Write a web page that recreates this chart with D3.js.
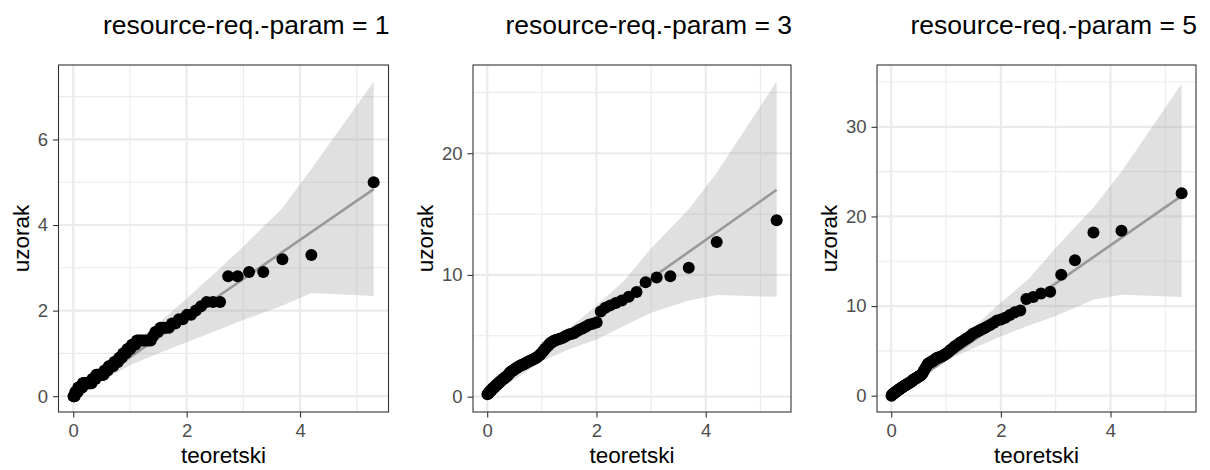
<!DOCTYPE html>
<html><head><meta charset="utf-8">
<script src="https://cdn.jsdelivr.net/npm/d3@7"></script>
<style>
body{margin:0;background:#fff;}
svg{display:block;font-family:"Liberation Sans",Arial,sans-serif;}
</style></head>
<body><svg id="chart" width="1210" height="470"></svg>
<script>
// ---- data ----
const titles = ["resource-req.-param = 1", "resource-req.-param = 3", "resource-req.-param = 5"];
const xTheo = [0.005,0.015,0.025,0.036,0.046,0.057,0.067,0.078,0.089,0.100,
0.111,0.122,0.134,0.145,0.157,0.168,0.180,0.192,0.205,0.217,
0.229,0.242,0.255,0.268,0.281,0.294,0.308,0.322,0.336,0.350,
0.364,0.378,0.393,0.408,0.423,0.439,0.454,0.470,0.486,0.503,
0.519,0.536,0.553,0.571,0.589,0.607,0.626,0.644,0.664,0.683,
0.703,0.724,0.744,0.766,0.788,0.810,0.832,0.856,0.880,0.904,
0.929,0.955,0.981,1.008,1.036,1.064,1.094,1.124,1.155,1.187,
1.221,1.255,1.291,1.328,1.367,1.407,1.448,1.492,1.537,1.585,
1.635,1.687,1.743,1.802,1.864,1.931,2.003,2.079,2.163,2.254,
2.354,2.465,2.590,2.733,2.900,3.101,3.352,3.689,4.200,5.298];
const sample1 = [0.0,0.0,0.0,0.1,0.1,0.1,0.1,0.1,0.2,0.2,
0.2,0.2,0.2,0.2,0.2,0.3,0.3,0.3,0.3,0.3,
0.3,0.3,0.3,0.3,0.3,0.3,0.3,0.3,0.4,0.4,
0.4,0.4,0.4,0.5,0.5,0.5,0.5,0.5,0.5,0.5,
0.5,0.5,0.6,0.6,0.6,0.6,0.7,0.7,0.7,0.7,
0.7,0.8,0.8,0.8,0.8,0.9,0.9,0.9,1.0,1.0,
1.0,1.1,1.1,1.1,1.2,1.2,1.2,1.3,1.3,1.3,
1.3,1.3,1.3,1.3,1.3,1.4,1.5,1.5,1.6,1.6,
1.6,1.6,1.7,1.7,1.8,1.8,1.9,1.9,2.0,2.1,
2.2,2.2,2.2,2.8,2.8,2.9,2.9,3.2,3.3,5.0];
const sample2 = [0.2,0.25,0.3,0.35,0.4,0.45,0.5,0.55,0.6,0.65,
0.7,0.75,0.8,0.85,0.9,0.95,1.0,1.05,1.1,1.15,
1.2,1.25,1.3,1.35,1.4,1.45,1.5,1.55,1.6,1.65,
1.7,1.75,1.85,1.95,2.0,2.05,2.1,2.15,2.2,2.25,
2.3,2.35,2.4,2.45,2.5,2.55,2.6,2.62,2.65,2.7,
2.75,2.8,2.85,2.9,2.95,3.0,3.05,3.1,3.15,3.2,
3.3,3.4,3.5,3.65,3.8,3.95,4.1,4.25,4.4,4.5,
4.6,4.65,4.7,4.75,4.8,4.9,5.0,5.1,5.15,5.2,
5.35,5.5,5.6,5.75,5.9,6.0,6.1,7.0,7.3,7.5,
7.7,7.9,8.2,8.6,9.4,9.8,9.9,10.6,12.7,14.5];
const sample3 = [0.0,0.1,0.15,0.2,0.25,0.3,0.35,0.4,0.45,0.5,
0.55,0.6,0.65,0.7,0.75,0.8,0.85,0.9,0.95,1.0,
1.05,1.1,1.15,1.2,1.25,1.3,1.35,1.4,1.45,1.5,
1.55,1.6,1.7,1.8,1.85,1.9,1.95,2.0,2.1,2.15,
2.2,2.25,2.35,2.5,2.7,2.9,3.1,3.3,3.5,3.6,
3.7,3.75,3.8,3.9,4.0,4.1,4.2,4.25,4.3,4.35,
4.4,4.5,4.6,4.7,4.85,5.0,5.15,5.3,5.45,5.6,
5.75,5.9,6.05,6.2,6.35,6.5,6.7,6.9,7.05,7.2,
7.35,7.5,7.7,7.9,8.1,8.4,8.5,8.7,9.0,9.3,
9.5,10.8,11.0,11.4,11.6,13.5,15.1,18.2,18.4,22.6];
const lineX = [0.005, 5.298];
const line1Y = [0.0, 4.84];
const line2Y = [0.2, 17.0];
const line3Y = [-0.2, 22.3];
const bandX = [0.005,0.5,1.0,1.5,2.0,2.5,3.0,3.69,4.2,5.298];
const band1Lo = [0.0,0.35,0.72,1.0,1.26,1.52,1.78,2.12,2.41,2.34];
const band1Hi = [0.0,0.58,1.15,1.7,2.28,2.88,3.5,4.4,5.31,7.35];
const band2Lo = [0.1,1.4,2.9,3.9,4.7,5.8,6.9,7.9,8.36,8.2];
const band2Hi = [0.3,2.0,3.8,5.6,7.5,9.5,12.2,15.4,18.4,25.9];
const band3Lo = [-0.1,1.8,3.9,5.3,6.6,7.8,8.9,10.7,11.25,11.0];
const band3Hi = [0.1,2.4,5.0,7.6,10.4,13.0,16.5,21.0,25.0,34.8];
const xTicks = [0, 2, 4];
const xMinor = [1, 3, 5];
const yTicks1 = [0, 2, 4, 6], yMinor1 = [1, 3, 5, 7];
const yTicks2 = [0, 10, 20], yMinor2 = [5, 15, 25];
const yTicks3 = [0, 10, 20, 30], yMinor3 = [5, 15, 25, 35];
const xLabel = "teoretski", yLabel = "uzorak";

const panels = [
  {title: titles[0], y: sample1, lineY: line1Y, lo: band1Lo, hi: band1Hi, yt: yTicks1, ym: yMinor1, ydom: [-0.37, 7.74], left: 58.5, right: 388.5},
  {title: titles[1], y: sample2, lineY: line2Y, lo: band2Lo, hi: band2Hi, yt: yTicks2, ym: yMinor2, ydom: [-1.26, 27.25], left: 473, right: 791},
  {title: titles[2], y: sample3, lineY: line3Y, lo: band3Lo, hi: band3Hi, yt: yTicks3, ym: yMinor3, ydom: [-1.82, 36.9], left: 877, right: 1196}
];
const pTop = 65, pBottom = 412;
const svg = d3.select("#chart");

panels.forEach((p, k) => {
  const x = d3.scaleLinear().domain([-0.26, 5.56]).range([p.left, p.right]);
  const y = d3.scaleLinear().domain(p.ydom).range([pBottom, pTop]);
  const g = svg.append("g");
  const cid = "clip" + k;
  g.append("clipPath").attr("id", cid).append("rect")
    .attr("x", p.left).attr("y", pTop).attr("width", p.right - p.left).attr("height", pBottom - pTop);
  const pg = g.append("g").attr("clip-path", `url(#${cid})`);
  // grid
  pg.selectAll(".vmin").data(xMinor).join("line")
    .attr("x1", d => x(d)).attr("x2", d => x(d)).attr("y1", pTop).attr("y2", pBottom)
    .attr("stroke", "#ebebeb").attr("stroke-width", 1.1);
  pg.selectAll(".hmin").data(p.ym).join("line")
    .attr("y1", d => y(d)).attr("y2", d => y(d)).attr("x1", p.left).attr("x2", p.right)
    .attr("stroke", "#ebebeb").attr("stroke-width", 1.1);
  pg.selectAll(".vmaj").data(xTicks).join("line")
    .attr("x1", d => x(d)).attr("x2", d => x(d)).attr("y1", pTop).attr("y2", pBottom)
    .attr("stroke", "#ebebeb").attr("stroke-width", 2.2);
  pg.selectAll(".hmaj").data(p.yt).join("line")
    .attr("y1", d => y(d)).attr("y2", d => y(d)).attr("x1", p.left).attr("x2", p.right)
    .attr("stroke", "#ebebeb").attr("stroke-width", 2.2);
  // band
  const bandData = bandX.map((bx, i) => ({x: bx, lo: p.lo[i], hi: p.hi[i]}));
  pg.append("path").datum(bandData)
    .attr("d", d3.area().x(d => x(d.x)).y0(d => y(d.lo)).y1(d => y(d.hi)))
    .attr("fill", "#999999").attr("fill-opacity", 0.3);
  // line
  pg.append("path").datum(lineX.map((lx, i) => [lx, p.lineY[i]]))
    .attr("d", d3.line().x(d => x(d[0])).y(d => y(d[1])))
    .attr("stroke", "#999999").attr("stroke-width", 2.6).attr("fill", "none");
  // points
  pg.selectAll("circle").data(xTheo.map((tx, i) => [tx, p.y[i]])).join("circle")
    .attr("cx", d => x(d[0])).attr("cy", d => y(d[1])).attr("r", 6).attr("fill", "#000");
  // border
  g.append("rect").attr("x", p.left).attr("y", pTop).attr("width", p.right - p.left).attr("height", pBottom - pTop)
    .attr("fill", "none").attr("stroke", "#333333").attr("stroke-width", 1.1);
  // axes
  const ax = g.append("g").attr("transform", `translate(0,${pBottom})`)
    .call(d3.axisBottom(x).tickValues(xTicks).tickSize(5.5).tickPadding(6).tickFormat(d3.format("d")));
  const ay = g.append("g").attr("transform", `translate(${p.left},0)`)
    .call(d3.axisLeft(y).tickValues(p.yt).tickSize(5.5).tickPadding(5).tickFormat(d3.format("d")));
  [ax, ay].forEach(a => {
    a.select(".domain").remove();
    a.selectAll(".tick line").attr("stroke", "#333333").attr("stroke-width", 1.1);
    a.selectAll(".tick text").attr("fill", "#4d4d4d").style("font-size", "18.5px")
      .style("font-family", "'Liberation Sans', Arial, sans-serif");
  });
  // axis titles
  g.append("text").attr("x", (p.left + p.right) / 2).attr("y", 463)
    .attr("text-anchor", "middle").style("font-size", "22.5px").attr("fill", "#000").text(xLabel);
  const bb = ay.node().getBBox();
  g.append("text").attr("transform", `translate(${p.left + bb.x - 9},${(pTop + pBottom) / 2}) rotate(-90)`)
    .attr("text-anchor", "middle").style("font-size", "22.5px").attr("fill", "#000").text(yLabel);
  // title
  g.append("text").attr("x", p.right + 1).attr("y", 33.5).attr("text-anchor", "end")
    .style("font-size", "26.5px").attr("fill", "#000").text(p.title);
});
</script></body></html>
